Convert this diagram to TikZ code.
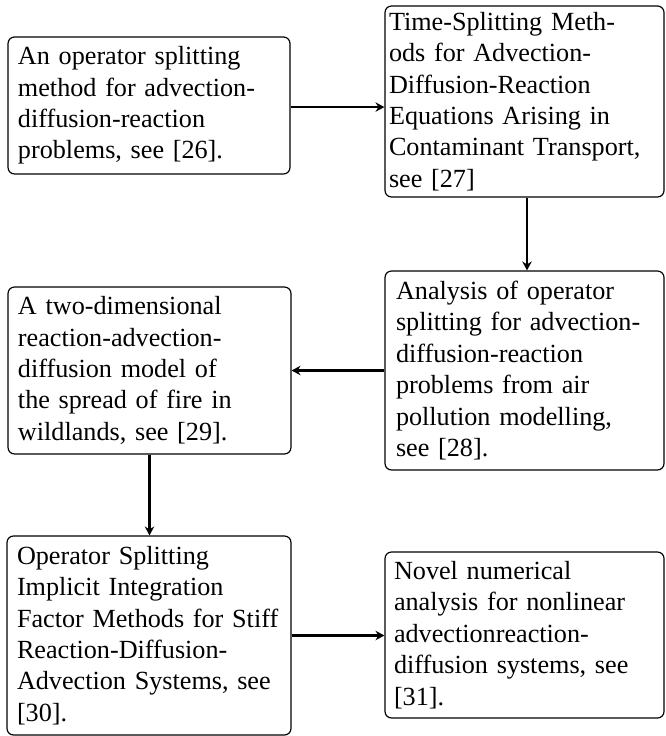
\documentclass[tikz,border=0pt]{standalone}
\usepackage{fontspec}
\setmainfont{Liberation Serif}
\usetikzlibrary{arrows.meta}
\newcommand{\bxl}[1]{\mbox{#1}}
\begin{document}
\begin{tikzpicture}[x=0.382pt,y=-0.382pt,
  box/.style={draw,rounded corners=2.5pt,align=left,inner sep=0pt,line width=0.45pt,
    font=\fontsize{10}{12}\selectfont,anchor=center},
  conn/.style={-{Stealth[length=3.4pt,width=3.6pt,inset=1.1pt]},line width=0.8pt}]
\useasboundingbox (0,0) rectangle (665,736);
\node[box,minimum width=282*0.382pt,minimum height=137*0.382pt,text width=262*0.382pt] (n1) at (149,105.5)
  {\bxl{An operator splitting}\\\bxl{method for advection-}\\\bxl{diffusion-reaction}\\\bxl{problems, see [26].}};
\node[box,minimum width=279*0.382pt,minimum height=191*0.382pt,text width=271*0.382pt] (n2) at (524.5,101.5)
  {\bxl{Time-Splitting Meth-}\\\bxl{ods for Advection-}\\\bxl{Diffusion-Reaction}\\\bxl{Equations Arising in}\\\bxl{Contaminant Transport,}\\\bxl{see [27]}};
\node[box,minimum width=279*0.382pt,minimum height=199*0.382pt,text width=257*0.382pt] (n3) at (524.5,370.5)
  {\bxl{Analysis of operator}\\\bxl{splitting for advection-}\\\bxl{diffusion-reaction}\\\bxl{problems from air}\\\bxl{pollution modelling,}\\\bxl{see [28].}};
\node[box,minimum width=283*0.382pt,minimum height=167*0.382pt,text width=263*0.382pt] (n4) at (149.5,370.5)
  {\bxl{A two-dimensional}\\\bxl{reaction-advection-}\\\bxl{diffusion model of}\\\bxl{the spread of fire in}\\\bxl{wildlands, see [29].}};
\node[box,minimum width=284*0.382pt,minimum height=199*0.382pt,text width=264*0.382pt] (n5) at (149,635.5)
  {\bxl{Operator Splitting}\\\bxl{Implicit Integration}\\\bxl{Factor Methods for Stiff}\\\bxl{Reaction-Diffusion-}\\\bxl{Advection Systems, see}\\\bxl{[30].}};
\node[box,minimum width=279*0.382pt,minimum height=166*0.382pt,text width=261*0.382pt] (n6) at (524.5,635)
  {\bxl{Novel numerical}\\\bxl{analysis for nonlinear}\\\bxl{advectionreaction-}\\\bxl{diffusion systems, see}\\\bxl{[31].}};
\draw[conn] ([yshift=-0.6pt]n1.east) -- ([yshift=-0.6pt]n1.east -| n2.west);
\draw[conn] (n2.south -| 527,0) -- (n3.north -| 527,0);
\draw[conn] (n3.west) -- (n4.east);
\draw[conn] (n4.south) -- (n4.south |- n5.north);
\draw[conn] (n5.east) -- (n5.east -| n6.west);
\end{tikzpicture}
\end{document}
